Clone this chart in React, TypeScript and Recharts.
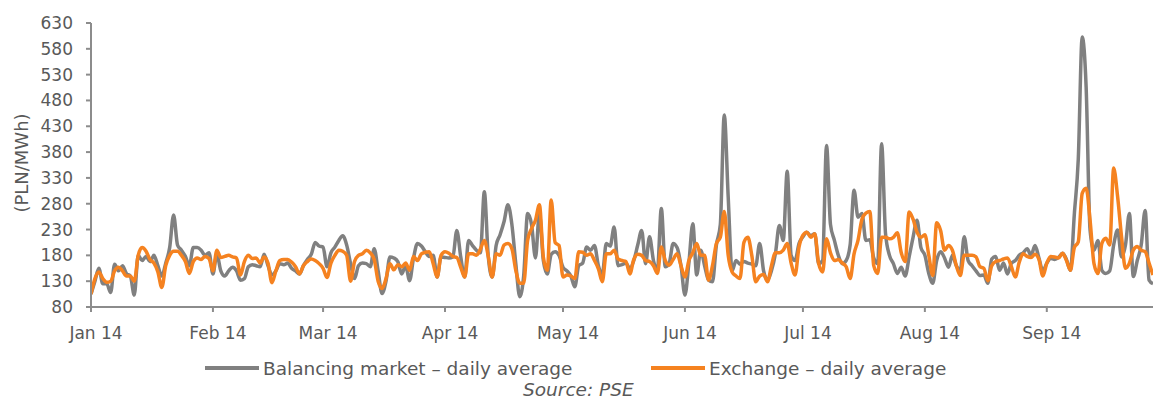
import React from 'react';
import { LineChart, Line, XAxis, YAxis, Legend } from 'recharts';

const monthLabels = ['Jan 14', 'Feb 14', 'Mar 14', 'Apr 14', 'May 14', 'Jun 14', 'Jul 14', 'Aug 14', 'Sep 14'];
const monthStartDays = [0, 31, 59, 90, 120, 151, 181, 212, 243];
const yTicks = [80, 130, 180, 230, 280, 330, 380, 430, 480, 530, 580, 630];

const balancing = [
  105, 130, 155, 125, 125, 108, 163, 150, 160, 145,
  140, 103, 180, 170, 178, 168, 180, 160, 140, 165,
  195, 258, 200, 190, 178, 160, 195, 195, 190, 180,
  185, 144, 182, 150, 140, 150, 157, 150, 132, 135,
  158, 162, 160, 158, 182, 160, 142, 150, 164, 162,
  165, 155, 150, 144, 160, 172, 182, 205, 198, 196,
  158, 185, 196, 209, 218, 200, 164, 135, 160, 165,
  164, 158, 193, 150, 106, 130, 177, 175, 168, 144,
  160, 131, 175, 203, 198, 187, 178, 180, 138, 177,
  176, 175, 177, 228, 177, 138, 209, 199, 190, 185,
  303, 178, 138, 199, 220, 245, 278, 240, 164, 100,
  140, 261, 240, 175, 262, 170, 144, 182, 187, 180,
  157, 150, 140, 119, 160, 165, 196, 190, 199, 160,
  144, 203, 198, 235, 160, 162, 165, 155, 170, 200,
  228, 164, 216, 170, 151, 271, 158, 165, 203, 195,
  160, 103, 165, 241, 142, 190, 160, 132, 129, 200,
  240, 452, 293, 150, 170, 163, 168, 165, 163, 160,
  203, 150, 132, 150, 183, 238, 209, 343, 180, 170,
  203, 216, 225, 218, 222, 164, 170, 393, 240, 209,
  180, 164, 170, 200, 306, 254, 261, 209, 210, 175,
  164, 396, 222, 180, 164, 145, 157, 140, 177, 215,
  248, 195, 180, 145, 126, 170, 187, 175, 157, 180,
  160, 151, 216, 170, 160, 150, 141, 142, 126, 173,
  178, 151, 165, 144, 165, 170, 180, 185, 193, 180,
  199, 175, 150, 165, 174, 172, 176, 184, 172, 151,
  260, 366, 603, 506, 229, 190, 209, 151, 145, 150,
  200, 229, 177, 200, 261, 139, 170, 200, 267, 132, 125,
];

const exchange = [
  105, 135, 148, 135, 128, 130, 150, 157, 150, 140,
  140, 130, 180, 195, 188, 172, 165, 148, 118, 160,
  180, 188, 188, 180, 168, 145, 168, 175, 172, 178,
  174, 150, 190, 176, 178, 180, 177, 175, 142, 168,
  180, 174, 175, 165, 177, 165, 127, 150, 170, 172,
  172, 167, 158, 144, 160, 168, 173, 170, 164, 155,
  137, 165, 180, 190, 188, 180, 130, 168, 180, 183,
  190, 185, 172, 130, 116, 135, 164, 152, 162, 158,
  165, 151, 178, 170, 183, 186, 187, 164, 138, 180,
  187, 184, 178, 176, 157, 138, 183, 183, 180, 192,
  209, 178, 138, 183, 180, 200, 203, 193, 151, 126,
  126, 209, 232, 248, 278, 177, 151, 287, 205, 199,
  138, 142, 140, 135, 187, 186, 180, 183, 170, 154,
  129, 183, 183, 190, 173, 170, 168, 144, 172, 182,
  180, 170, 168, 160, 145, 196, 170, 161, 172, 183,
  160, 138, 170, 185, 203, 180, 180, 132, 160, 203,
  215, 265, 180, 148, 140, 135, 205, 215, 180, 129,
  140, 143, 129, 160, 185, 185, 190, 203, 165, 142,
  196, 219, 225, 215, 222, 164, 148, 212, 185, 170,
  172, 165, 158, 135, 183, 209, 250, 262, 265, 160,
  145, 215, 215, 212, 215, 224, 185, 168, 264, 250,
  225, 215, 220, 180, 141, 243, 228, 190, 199, 190,
  160, 141, 180, 180, 180, 177, 158, 155, 131, 160,
  168, 170, 173, 175, 158, 138, 167, 183, 178, 176,
  182, 172, 140, 165, 178, 177, 175, 184, 170, 151,
  195, 206, 300, 310, 248, 164, 145, 203, 213, 200,
  349, 294, 216, 155, 165, 190, 197, 190, 187, 165, 142,
];

const rows = balancing.map((b, i) => ({ day: i, balancing: b, exchange: exchange[i] }));

const AXIS = '#8c8c8c';
const TEXT = '#595959';
const GRAY = '#808080';
const ORANGE = '#F58220';
const legendLefts = [205, 651];

function LegendContent(props: any) {
  const payload = props.payload || [];
  return (
    <div style={{ position: 'relative', width: 1153, height: 26 }}>
      {payload.map((p: any, i: number) => (
        <div
          key={i}
          style={{
            position: 'absolute',
            left: legendLefts[i],
            top: 0,
            height: 26,
            display: 'flex',
            alignItems: 'center',
            whiteSpace: 'nowrap',
            fontSize: 18.5,
            color: TEXT,
          }}
        >
          <span style={{ display: 'inline-block', width: 54, height: 4, background: p.color, marginRight: 4 }} />
          <span>{p.value}</span>
        </div>
      ))}
    </div>
  );
}

export default function App() {
  return (
    <div
      style={{
        position: 'absolute',
        left: 0,
        top: 0,
        width: 1153,
        height: 401,
        overflow: 'hidden',
        fontFamily: '"DejaVu Sans", Verdana, sans-serif',
        background: '#fff',
      }}
    >
      <LineChart width={1153} height={401} data={rows} margin={{ top: 23, right: 0, bottom: 0, left: 0 }}>
        <XAxis
          dataKey="day"
          type="number"
          domain={[0, 270]}
          ticks={monthStartDays}
          interval={0}
          allowDataOverflow
          tickFormatter={(v: number) => monthLabels[monthStartDays.indexOf(v)]}
          height={94}
          axisLine={{ stroke: AXIS, strokeWidth: 2 }}
          tickLine={{ stroke: AXIS, strokeWidth: 2 }}
          tickSize={5}
          tickMargin={15}
          tick={{ fill: TEXT, fontSize: 17, dx: 5 }}
        />
        <YAxis
          type="number"
          domain={[80, 630]}
          ticks={yTicks}
          interval={0}
          allowDataOverflow
          width={91}
          axisLine={{ stroke: AXIS, strokeWidth: 2 }}
          tickLine={{ stroke: AXIS, strokeWidth: 2 }}
          tickSize={5}
          tickMargin={13}
          tick={{ fill: TEXT, fontSize: 17 }}
          label={{
            content: () => (
              <text x={21} y={163} transform="rotate(-90 21 163)" textAnchor="middle" dominantBaseline="central" fill={TEXT} fontSize={18}>
                (PLN/MWh)
              </text>
            ),
          }}
        />
        <Line
          type="monotone"
          dataKey="balancing"
          name="Balancing market – daily average"
          stroke={GRAY}
          strokeWidth={3.5}
          dot={false}
          isAnimationActive={false}
        />
        <Line
          type="monotone"
          dataKey="exchange"
          name="Exchange – daily average"
          stroke={ORANGE}
          strokeWidth={3.5}
          dot={false}
          isAnimationActive={false}
        />
        <Legend
          layout="horizontal"
          verticalAlign="middle"
          align="center"
          content={<LegendContent />}
          wrapperStyle={{ position: 'absolute', left: 0, top: 355, width: 1153, height: 26 }}
        />
      </LineChart>
      <div
        style={{
          position: 'absolute',
          left: 523,
          top: 379,
          fontStyle: 'italic',
          fontSize: 18.5,
          color: TEXT,
          whiteSpace: 'nowrap',
        }}
      >
        Source: PSE
      </div>
    </div>
  );
}
